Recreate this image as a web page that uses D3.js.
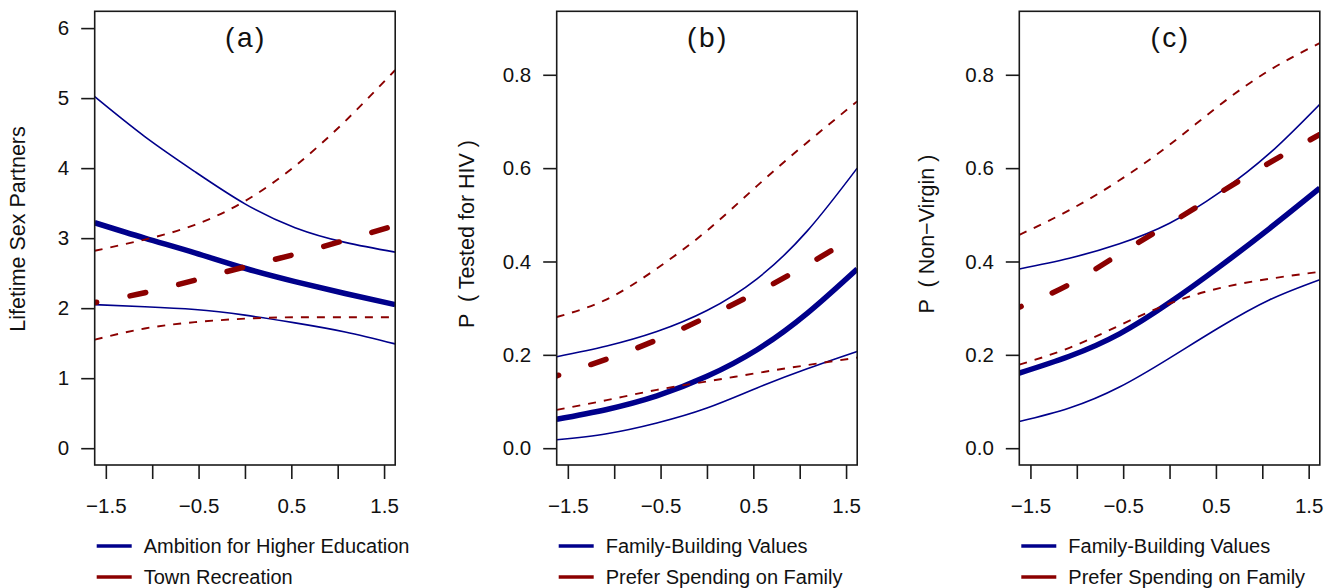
<!DOCTYPE html>
<meta charset="utf-8">
<style>
html,body{
  margin:0;
  background:#fff;
}
svg{
  font-family:"Liberation Sans", Arial, sans-serif;
}
.box{
  fill:none;
  stroke:#1a1a1a;
  stroke-width:1.6px;
}
.axis line{
  stroke:#1a1a1a;
  stroke-width:1.6px;
}
.axis text{
  font-size:20.5px;
  fill:#111;
}
.title{
  font-size:28px;
  letter-spacing:2.5px;
  fill:#111;
}
.ylab{
  font-size:21.5px;
  fill:#111;
  white-space:pre;
}
.legend text{
  font-size:20px;
  fill:#111;
}
</style>
<body>
<script src="https://d3js.org/d3.v7.min.js"></script>
<script>

// x positions (standardised predictor) where the curves were read
var xGrid = [-1.62, -1.08, -0.54, 0, 0.54, 1.08, 1.62];

// (a) lifetime sex partners
var eduFit  = [3.22, 3.00, 2.79, 2.57, 2.38, 2.21, 2.05];
var eduHi   = [5.02, 4.45, 3.95, 3.49, 3.15, 2.94, 2.80];
var eduLo   = [2.05, 2.02, 1.98, 1.90, 1.79, 1.66, 1.49];
var recFit  = [2.08, 2.22, 2.40, 2.59, 2.77, 2.97, 3.18];
var recHi   = [2.82, 2.98, 3.19, 3.53, 4.03, 4.67, 5.40];
var recLo   = [1.55, 1.71, 1.80, 1.85, 1.87, 1.87, 1.87];

// (b) P(tested for HIV)
var hivFamFit   = [0.062, 0.083, 0.112, 0.154, 0.211, 0.289, 0.384];
var hivFamHi    = [0.196, 0.219, 0.250, 0.295, 0.363, 0.465, 0.600];
var hivFamLo    = [0.018, 0.031, 0.054, 0.086, 0.129, 0.170, 0.207];
var hivSpendFit = [0.155, 0.191, 0.232, 0.281, 0.334, 0.393, 0.456];
var hivSpendHi  = [0.281, 0.319, 0.385, 0.466, 0.562, 0.655, 0.743];
var hivSpendLo  = [0.082, 0.103, 0.125, 0.143, 0.161, 0.178, 0.194];

// (c) P(non-virgin)
var nvFamFit   = [0.161, 0.197, 0.245, 0.312, 0.389, 0.471, 0.557];
var nvFamHi    = [0.384, 0.407, 0.438, 0.482, 0.548, 0.632, 0.737];
var nvFamLo    = [0.057, 0.086, 0.131, 0.193, 0.259, 0.318, 0.361];
var nvSpendFit = [0.302, 0.351, 0.416, 0.481, 0.547, 0.612, 0.672];
var nvSpendHi  = [0.457, 0.510, 0.574, 0.650, 0.735, 0.810, 0.868];
var nvSpendLo  = [0.179, 0.215, 0.263, 0.310, 0.343, 0.363, 0.378];

var xTicks = [-1.5, -1, -0.5, 0, 0.5, 1, 1.5];
var xLabelled = [-1.5, -0.5, 0.5, 1.5];
var probTicks = [0, 0.2, 0.4, 0.6, 0.8];
var countTicks = [0, 1, 2, 3, 4, 5, 6];

var titles = ["(a)", "(b)", "(c)"];
var yLabels = ["Lifetime Sex Partners", "P  ( Tested for HIV )", "P  ( Non\u2212Virgin )"];
var legendA = ["Ambition for Higher Education", "Town Recreation"];
var legendBC = ["Family-Building Values", "Prefer Spending on Family"];

var blue = "#00008b",
    red = "#8b0000";

var panels = [
  {title: titles[0], ylab: yLabels[0], ylim: [0, 6], yticks: countTicks, yfmt: d3.format("d"),
   blue: [eduFit, eduHi, eduLo], red: [recFit, recHi, recLo], legend: legendA,
   left: 94.7, labX: 25, labY: 229},
  {title: titles[1], ylab: yLabels[1], ylim: [0, 0.9], yticks: probTicks, yfmt: d3.format(".1f"),
   blue: [hivFamFit, hivFamHi, hivFamLo], red: [hivSpendFit, hivSpendHi, hivSpendLo], legend: legendBC,
   left: 556.7, labX: 473.5, labY: 234},
  {title: titles[2], ylab: yLabels[2], ylim: [0, 0.9], yticks: probTicks, yfmt: d3.format(".1f"),
   blue: [nvFamFit, nvFamHi, nvFamLo], red: [nvSpendFit, nvSpendHi, nvSpendLo], legend: legendBC,
   left: 1019.3, labX: 933.5, labY: 234}
];

var width = 1332, height = 588;
var boxW = 300.5, boxTop = 11.3, boxBottom = 465;

var svg = d3.select("body").append("svg")
    .attr("width", width)
    .attr("height", height);

// R style 4% padding on both axes
function padded(lim) {
  var d = (lim[1] - lim[0]) * 0.04;
  return [lim[0] - d, lim[1] + d];
}

panels.forEach(function(p, i) {

  var x = d3.scaleLinear()
      .domain(padded([-1.5, 1.5]))
      .range([p.left, p.left + boxW]);

  var y = d3.scaleLinear()
      .domain(padded(p.ylim))
      .range([boxBottom, boxTop]);

  var g = svg.append("g");

  g.append("clipPath")
      .attr("id", "clip" + i)
    .append("rect")
      .attr("x", p.left)
      .attr("y", boxTop)
      .attr("width", boxW)
      .attr("height", boxBottom - boxTop);

  var line = function(vals) {
    return d3.line()
      .x(function(d, k) { return x(xGrid[k]); })
      .y(function(d) { return y(d); })
      .curve(d3.curveNatural)(vals);
  };

  var plot = g.append("g").attr("clip-path", "url(#clip" + i + ")");

  // blue series: solid
  plot.append("path").attr("d", line(p.blue[1]))
      .attr("fill", "none").attr("stroke", blue).attr("stroke-width", 1.6);
  plot.append("path").attr("d", line(p.blue[2]))
      .attr("fill", "none").attr("stroke", blue).attr("stroke-width", 1.6);
  plot.append("path").attr("d", line(p.blue[0]))
      .attr("fill", "none").attr("stroke", blue).attr("stroke-width", 5.5);

  // red series: dashed
  plot.append("path").attr("d", line(p.red[1]))
      .attr("fill", "none").attr("stroke", red).attr("stroke-width", 1.9)
      .attr("stroke-dasharray", "8,8");
  plot.append("path").attr("d", line(p.red[2]))
      .attr("fill", "none").attr("stroke", red).attr("stroke-width", 1.9)
      .attr("stroke-dasharray", "8,8");
  plot.append("path").attr("d", line(p.red[0]))
      .attr("fill", "none").attr("stroke", red).attr("stroke-width", 5.5)
      .attr("stroke-linecap", "round")
      .attr("stroke-dasharray", "16,34")
      .attr("stroke-dashoffset", 14);

  // axes
  var yAxis = g.append("g")
      .attr("class", "axis")
      .attr("transform", "translate(" + p.left + ",0)")
      .call(d3.axisLeft(y).tickValues(p.yticks).tickFormat(p.yfmt).tickSize(13.5).tickPadding(12));
  yAxis.select(".domain").remove();

  var xAxis = g.append("g")
      .attr("class", "axis")
      .attr("transform", "translate(0," + boxBottom + ")")
      .call(d3.axisBottom(x).tickValues(xTicks).tickSize(14).tickPadding(19)
        .tickFormat(function(d) { return xLabelled.indexOf(d) >= 0 ? d3.format(".1f")(d) : ""; }));
  xAxis.select(".domain").remove();

  g.selectAll(".axis").attr("font-family", null).attr("font-size", null);

  g.append("rect")
      .attr("class", "box")
      .attr("x", p.left)
      .attr("y", boxTop)
      .attr("width", boxW)
      .attr("height", boxBottom - boxTop);

  g.append("text")
      .attr("class", "title")
      .attr("x", p.left + boxW / 2 + 1)
      .attr("y", 47)
      .attr("text-anchor", "middle")
      .text(p.title);

  g.append("text")
      .attr("class", "ylab")
      .attr("transform", "translate(" + p.labX + "," + p.labY + ") rotate(-90)")
      .attr("text-anchor", "middle")
      .text(p.ylab);

  // legend below each panel
  var leg = g.append("g").attr("class", "legend");
  [blue, red].forEach(function(c, k) {
    var ly = 546 + k * 31;
    leg.append("line")
        .attr("x1", p.left + 2).attr("x2", p.left + 37)
        .attr("y1", ly).attr("y2", ly)
        .attr("stroke", c).attr("stroke-width", 3.6);
    leg.append("text")
        .attr("x", p.left + 49)
        .attr("y", ly + 7)
        .text(p.legend[k]);
  });
});

</script>
</body>
